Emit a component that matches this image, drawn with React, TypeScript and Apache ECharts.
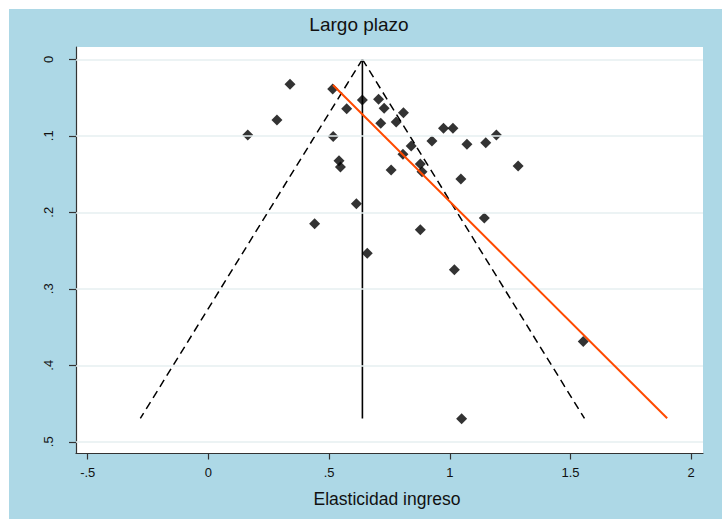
import { useEffect, useRef } from "react";
import * as echarts from "echarts";

// Axis ticks
const xTicks = [-0.5, 0, 0.5, 1, 1.5, 2];
const yTicks = [0, 0.1, 0.2, 0.3, 0.4, 0.5];

// Study estimates (elasticity) and their standard errors
const studyEffects = [
  0.338, 0.515, 0.638, 0.705, 0.573, 0.728, 0.808, 0.284, 0.714, 0.778,
  0.974, 1.013, 0.163, 0.517, 0.926, 0.84, 1.071, 1.149, 1.193, 0.806,
  0.541, 0.547, 0.757, 0.878, 0.885, 1.283, 1.046, 0.613, 0.44, 1.143,
  0.878, 0.658, 1.019, 1.553, 1.049,
];
const studySe = [
  0.0327, 0.0388, 0.0532, 0.0523, 0.0645, 0.064, 0.0698, 0.0793, 0.0837, 0.082,
  0.0902, 0.0902, 0.099, 0.101, 0.1068, 0.1133, 0.111, 0.109, 0.099, 0.124,
  0.1325, 0.1408, 0.1447, 0.1369, 0.147, 0.1395, 0.1565, 0.1888, 0.215, 0.2075,
  0.2227, 0.2536, 0.275, 0.369, 0.4698,
];

// Funnel: pooled estimate and pseudo 95% limits at the largest standard error
const pooledEffect = 0.638;
const funnelSe = [0, 0.4695];
const funnelLeftX = [0.638, -0.282];
const funnelRightX = [0.638, 1.558];

// Fitted regression line of estimate on standard error
const fitX = [0.516, 1.9005];
const fitSe = [0.0336, 0.4693];

const FONT = "'Liberation Sans', Arial, Helvetica, sans-serif";
const fmt = (v: number) => (v === 0 ? "0" : String(v).replace("0.", "."));

export default function App() {
  const ref = useRef<HTMLDivElement>(null);

  useEffect(() => {
    if (!ref.current) return;
    const chart = echarts.init(ref.current, undefined, { renderer: "svg" });

    const points = studyEffects.map((x, i) => [x, studySe[i]]);

    chart.setOption({
      animation: false,
      backgroundColor: "#add8e6",
      grid: {
        show: true,
        left: 67,
        top: 38,
        right: 19,
        bottom: 65.5,
        backgroundColor: "#ffffff",
        borderWidth: 0,
      },
      graphic: [
        {
          type: "text",
          x: 350,
          y: 15.5,
          style: {
            text: "Largo plazo",
            fontFamily: FONT,
            fontSize: 19,
            fill: "#111",
            textAlign: "center",
            textVerticalAlign: "middle",
          },
        },
        {
          type: "text",
          x: 378,
          y: 490,
          style: {
            text: "Elasticidad ingreso",
            fontFamily: FONT,
            fontSize: 17.5,
            fill: "#111",
            textAlign: "center",
            textVerticalAlign: "middle",
          },
        },
      ],
      xAxis: {
        type: "value",
        min: -0.5485,
        max: 2.049,
        axisLine: { show: true, onZero: false, lineStyle: { color: "#333", width: 1.2 } },
        axisTick: {
          show: true,
          length: 6,
          customValues: xTicks,
          lineStyle: { color: "#333", width: 1.2 },
        },
        axisLabel: {
          customValues: xTicks,
          formatter: fmt,
          margin: 12,
          fontFamily: FONT,
          fontSize: 13,
          color: "#111",
        },
        splitLine: { show: false },
      },
      yAxis: {
        type: "value",
        inverse: true,
        min: -0.0161,
        max: 0.5153,
        axisLine: { show: true, onZero: false, lineStyle: { color: "#333", width: 1.2 } },
        axisTick: {
          show: true,
          length: 7,
          customValues: yTicks,
          lineStyle: { color: "#333", width: 1.2 },
        },
        axisLabel: {
          customValues: yTicks,
          formatter: fmt,
          rotate: 90,
          margin: 21,
          fontFamily: FONT,
          fontSize: 13,
          color: "#111",
        },
        splitLine: { show: false },
      },
      series: [
        {
          // horizontal grid lines at the y ticks
          type: "line",
          data: [],
          silent: true,
          z: 1,
          markLine: {
            silent: true,
            symbol: "none",
            label: { show: false },
            lineStyle: { color: "#e6eff1", width: 1.5, type: "solid" },
            data: yTicks.map((v) => ({ yAxis: v })),
          },
        },
        {
          type: "scatter",
          data: points,
          symbol: "diamond",
          symbolSize: 11,
          itemStyle: { color: "#000" },
          z: 3,
        },
        {
          type: "line",
          data: funnelSe.map((s) => [pooledEffect, s]),
          symbol: "none",
          lineStyle: { color: "#000", width: 1.6 },
          z: 4,
        },
        {
          type: "line",
          data: funnelSe.map((s, i) => [funnelLeftX[i], s]),
          symbol: "none",
          lineStyle: { color: "#000", width: 1.5, type: [8, 5] },
          z: 4,
        },
        {
          type: "line",
          data: funnelSe.map((s, i) => [funnelRightX[i], s]),
          symbol: "none",
          lineStyle: { color: "#000", width: 1.5, type: [8, 5] },
          z: 4,
        },
        {
          type: "line",
          data: fitX.map((x, i) => [x, fitSe[i]]),
          symbol: "none",
          lineStyle: { color: "#ff4a00", width: 2 },
          z: 5,
        },
      ],
    });

    return () => chart.dispose();
  }, []);

  return (
    <div
      style={{
        position: "fixed",
        left: 0,
        top: 0,
        width: 722,
        height: 519,
        boxSizing: "border-box",
        background: "#add8e6",
        borderLeft: "9px solid #ffffff",
        borderTop: "9px solid #ffffff",
      }}
    >
      <div
        ref={ref}
        style={{ position: "absolute", left: 0, top: 0, width: 713, height: 510 }}
      />
    </div>
  );
}
